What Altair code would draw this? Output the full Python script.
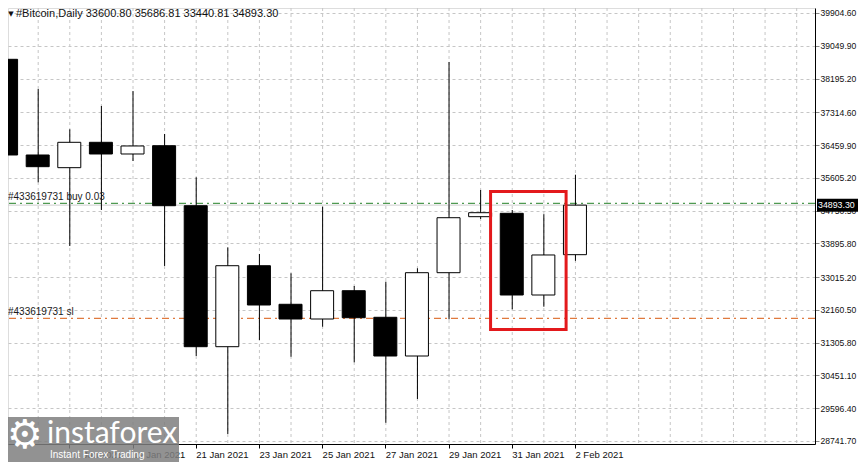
import json
import altair as alt
import pandas as pd

# ---------------- data ----------------
dates = ["15 Jan 2021", "16 Jan 2021", "17 Jan 2021", "18 Jan 2021", "19 Jan 2021",
         "20 Jan 2021", "21 Jan 2021", "22 Jan 2021", "23 Jan 2021", "24 Jan 2021",
         "25 Jan 2021", "26 Jan 2021", "27 Jan 2021", "28 Jan 2021", "29 Jan 2021",
         "30 Jan 2021", "31 Jan 2021", "1 Feb 2021", "2 Feb 2021"]
opens = [38697.0, 36201.0, 35870.0, 36532.0, 36227.0, 36443.0, 34878.0, 31201.0,
         33313.0, 32307.0, 31923.0, 32661.0, 31968.0, 30958.0, 33131.0, 34592.0,
         34680.0, 32549.0, 33600.80]
highs = [39722.0, 37922.0, 36871.0, 37479.0, 37870.0, 36749.0, 35619.0, 33793.0,
         33619.0, 33115.0, 34852.0, 32784.0, 32896.0, 33246.0, 38627.0, 35288.0,
         34766.0, 34654.0, 35686.81]
lows = [34505.0, 35489.0, 33827.0, 34766.0, 36044.0, 33306.0, 30958.0, 28924.0,
        31376.0, 30940.0, 31722.0, 30794.0, 29218.0, 29837.0, 31915.0, 34532.0,
        32176.0, 32244.0, 33440.81]
closes = [36201.0, 35896.0, 36532.0, 36227.0, 36436.0, 34878.0, 31201.0, 33313.0,
          32288.0, 31923.0, 32661.0, 31957.0, 30958.0, 33131.0, 34565.0, 34696.0,
          32549.0, 33593.0, 34893.30]

symbol = "#Bitcoin,Daily"
ytick_values = [39904.60, 39049.90, 38195.20, 37314.60, 36459.90, 35605.20, 34750.50,
                33895.80, 33015.20, 32160.50, 31305.80, 30451.10, 29596.40, 28741.70]
label_days = list(range(0, 19, 2))
grid_days = list(range(1, 26))

order_id = "#433619731"
buy_price = 34941.0
sl_price = 31941.0
box_days = [15.33, 17.72]
box_prices = [31649.0, 35249.0]

# ---------------- tables ----------------
n = len(dates)
candles = pd.DataFrame({
    "d": list(range(n)),
    "open": opens, "high": highs, "low": lows, "close": closes,
})
candles["top"] = candles[["open", "close"]].max(axis=1)
candles["bot"] = candles[["open", "close"]].min(axis=1)
candles["fill"] = ["black" if c < o else "white" for o, c in zip(opens, closes)]

FONT = "Liberation Sans"
xscale = alt.Scale(domain=[0.21875, 25.4375], nice=False, zero=False)
yscale = alt.Scale(domain=[28662.8, 40035.0], nice=False, zero=False)

label_expr = json.dumps(dates) + "[datum.value]"
xaxis = alt.Axis(values=label_days, labelExpr=label_expr, title=None, grid=False,
                 domainColor="black", tickColor="black", tickSize=4,
                 labelAlign="left", labelPadding=1, labelFont=FONT,
                 labelFontSize=9.5, labelColor="#111111", labelFlush=False,
                 labelOverlap=False)
yaxis = alt.Axis(orient="right", values=ytick_values, format=".2f", title=None,
                 grid=True, gridColor="#c6c6c6", gridDash=[3, 3],
                 domainColor="black", tickColor="#888888", tickSize=4,
                 labelPadding=1, labelFont=FONT, labelFontSize=8.6,
                 labelColor="#111111", labelOverlap=False, labelFlush=False)


def X(f):
    return alt.X(f, type="quantitative", scale=xscale, axis=xaxis)


def Y(f):
    return alt.Y(f, type="quantitative", scale=yscale, axis=yaxis)


grid_v = alt.Chart(pd.DataFrame({"d": grid_days})).mark_rule(
    color="#c6c6c6", strokeDash=[3, 3], strokeWidth=1, xOffset=0.5, clip=True
).encode(x=X("d"))

bid_line = alt.Chart(pd.DataFrame({"p": [closes[-1]]})).mark_rule(
    color="#cfcfcf", strokeWidth=1).encode(y=Y("p"))
buy_df = pd.DataFrame({"p": [buy_price], "t": [f"{order_id} buy 0.03"]})
sl_df = pd.DataFrame({"p": [sl_price], "t": [f"{order_id} sl"]})
buy_line = alt.Chart(buy_df).mark_rule(
    color="#4f9a52", strokeDash=[7, 4, 2, 4], strokeWidth=1.2).encode(y=Y("p"))
sl_line = alt.Chart(sl_df).mark_rule(
    color="#e07a3e", strokeDash=[7, 4, 2, 4], strokeWidth=1.2).encode(y=Y("p"))
text_style = dict(align="left", baseline="middle", dy=-6, font=FONT, fontSize=10,
                  color="#1a1a1a")
buy_text = alt.Chart(buy_df).mark_text(**text_style).encode(
    x=alt.value(0), y=Y("p"), text="t:N")
sl_text = alt.Chart(sl_df).mark_text(**text_style).encode(
    x=alt.value(0), y=Y("p"), text="t:N")

wicks = alt.Chart(candles).mark_rule(color="black", strokeWidth=1, xOffset=0.5, clip=True).encode(
    x=X("d"), y=Y("low"), y2="high")
bodies = alt.Chart(candles).mark_bar(size=23, stroke="black", strokeWidth=1, clip=True,
                                      orient="vertical").encode(
    x=X("d"), y=Y("bot"), y2="top", color=alt.Color("fill:N", scale=None))

box = alt.Chart(pd.DataFrame({"x0": [box_days[0]], "x1": [box_days[1]],
                              "y0": [box_prices[0]], "y1": [box_prices[1]]})).mark_rect(
    filled=False, stroke="#e3191c", strokeWidth=3).encode(
    x=X("x0"), x2="x1", y=Y("y0"), y2="y1")

price_df = pd.DataFrame({"p": [closes[-1]], "t": [f"{closes[-1]:.2f}"]})
price_box = alt.Chart(price_df).mark_rule(color="black", strokeWidth=13, strokeCap="butt").encode(
    x=alt.value(809), x2=alt.value(850), y=Y("p"))
price_text = alt.Chart(price_df).mark_text(
    align="left", baseline="middle", font=FONT, fontSize=8.8, color="white"
).encode(x=alt.value(810), y=Y("p"), text="t:N")

header = f"{symbol}  {opens[-1]:.2f} {highs[-1]:.2f} {lows[-1]:.2f} {closes[-1]:.2f}"
deco = pd.DataFrame({"a": [0]})
header_text = alt.Chart(deco).mark_text(
    text=header, align="left", baseline="middle", font=FONT, fontSize=11, color="#111111"
).encode(x=alt.value(8), y=alt.value(6))
header_tri = alt.Chart(deco).mark_text(
    text="▼", align="center", baseline="middle", font="DejaVu Sans", fontSize=7, color="#111111"
).encode(x=alt.value(3), y=alt.value(6))

wm_rect = alt.Chart(deco).mark_rect(color="#7f7f7f", opacity=0.85).encode(
    x=alt.value(0), x2=alt.value(171), y=alt.value(409), y2=alt.value(454))
wm_gear = alt.Chart(deco).mark_text(
    text="⚙", align="center", baseline="middle", font="DejaVu Sans", fontSize=40, color="white"
).encode(x=alt.value(17), y=alt.value(428))
wm_name = alt.Chart(deco).mark_text(
    text="instaforex", align="left", baseline="alphabetic", font="Lato", fontSize=30,
    color="white").encode(x=alt.value(39), y=alt.value(435))
wm_tag = alt.Chart(deco).mark_text(
    text="Instant Forex Trading", align="left", baseline="middle", font=FONT, fontSize=10,
    color="white").encode(x=alt.value(42), y=alt.value(447))

chart = alt.layer(
    grid_v, bid_line, buy_line, sl_line, wicks, bodies, box, buy_text, sl_text,
    price_box, price_text, header_tri, header_text,
    wm_rect, wm_gear, wm_name, wm_tag,
).properties(
    width=807, height=436,
    autosize=alt.AutoSizeParams(type="none"),
    padding={"left": 0, "top": 0, "right": 43, "bottom": 18},
).configure_view(stroke=None).configure(background="white")

chart.save("out.html", embed_options={"renderer": "svg", "actions": False})
